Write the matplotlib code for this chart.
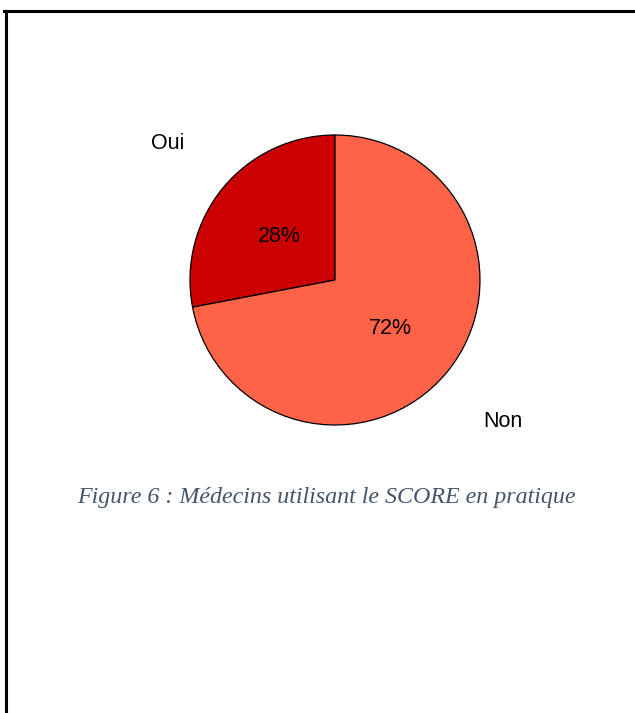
import matplotlib
matplotlib.use('Agg')
import matplotlib.pyplot as plt
from matplotlib.lines import Line2D

plt.rcParams['font.family'] = 'Liberation Sans'

# Data
categories = ['Oui', 'Non']
values = [28, 72]
colors = ['#CC0000', '#FF6347']
caption = 'Figure 6 : Médecins utilisant le SCORE en pratique'

W, H = 635, 713
fig = plt.figure(figsize=(W / 100, H / 100), dpi=100)

# pie centre (335, 280) px from top-left, radius 145 px
cx, cy, r = 335, H - 280, 145
ax = fig.add_axes([(cx - r) / W, (cy - r) / H, 2 * r / W, 2 * r / H])
wedges, texts, autotexts = ax.pie(
    values, labels=categories, colors=colors, startangle=90,
    counterclock=True, autopct='%1.0f%%', pctdistance=0.5,
    labeldistance=1.5, radius=1,
    wedgeprops=dict(edgecolor='black', linewidth=0.9),
    textprops=dict(fontsize=15.5, color='black'))
for t in texts + autotexts:
    t.set_ha('center')
    t.set_va('center_baseline')
ax.set_xlim(-1, 1)
ax.set_ylim(-1, 1)
ax.set_aspect('equal')
ax.axis('off')

# caption
fig.text(326 / W, 1 - 497 / H, caption, ha='center', va='center',
         fontsize=17.3, style='italic', family='Liberation Serif', color='#44546A')

# page border lines
fig.add_artist(Line2D([4 / W, 1], [1 - 11 / H, 1 - 11 / H],
                      transform=fig.transFigure, color='black', linewidth=2.2))
fig.add_artist(Line2D([5.5 / W, 5.5 / W], [0, 1 - 11 / H],
                      transform=fig.transFigure, color='black', linewidth=2.2))

fig.savefig('out.png', dpi=100, facecolor='white')
